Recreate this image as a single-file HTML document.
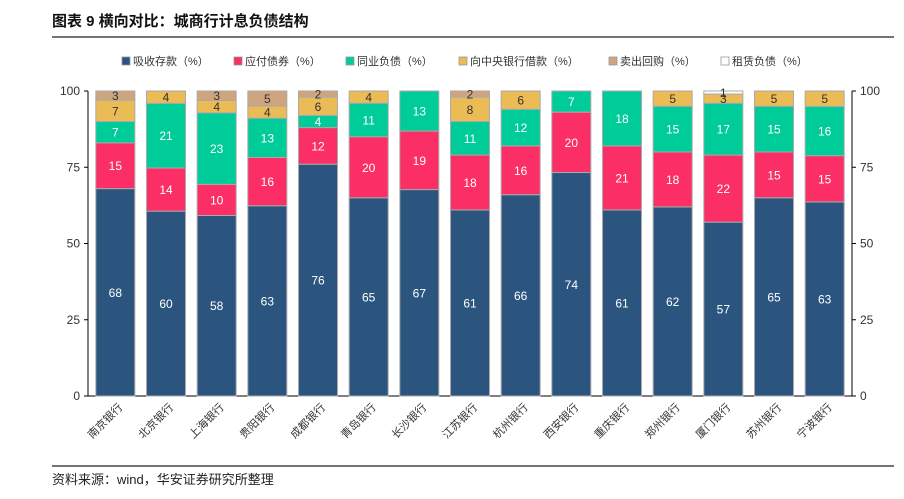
<!DOCTYPE html>
<html><head><meta charset="utf-8"><style>
body{margin:0;background:#fff;width:904px;height:494px;overflow:hidden;font-family:"Liberation Sans","Noto Sans CJK SC",sans-serif}
</style></head><body>
<svg width="904" height="494" xmlns="http://www.w3.org/2000/svg">
<text x="52" y="26" font-size="15" font-weight="bold" fill="#111" font-family="Liberation Sans,Noto Sans CJK SC,sans-serif">图表 9 横向对比：城商行计息负债结构</text>
<line x1="52" y1="37" x2="894" y2="37" stroke="#222" stroke-width="1.2"/>
<line x1="52" y1="466" x2="894" y2="466" stroke="#222" stroke-width="1.2"/>
<text x="52" y="484" font-size="13" fill="#222" font-family="Liberation Sans,Noto Sans CJK SC,sans-serif">资料来源：wind，华安证券研究所整理</text>
<g id="legend"></g>
<g id="axes"></g>
<g id="bars"></g>
<g id="xlabels"></g>
</svg>
<script>
const banks=["南京银行","北京银行","上海银行","贵阳银行","成都银行","青岛银行","长沙银行","江苏银行","杭州银行","西安银行","重庆银行","郑州银行","厦门银行","苏州银行","宁波银行"];
const deposits=[68,60,58,63,76,65,67,61,66,74,61,62,57,65,63];
const bonds=[15,14,10,16,12,20,19,18,16,20,21,18,22,15,15];
const interbank=[7,21,23,13,4,11,13,11,12,7,18,15,17,15,16];
const cbBorrow=[7,4,4,4,6,4,0,8,6,0,0,5,3,5,5];
const repo=[3,0,3,5,2,0,0,2,0,0,0,0,0,0,0];
const lease=[0,0,0,0,0,0,0,0,0,0,0,0,1,0,0];
const seriesNames=["吸收存款（%）","应付债券（%）","同业负债（%）","向中央银行借款（%）","卖出回购（%）","租赁负债（%）"];
const yTicks=[0,25,50,75,100];
const series=[deposits,bonds,interbank,cbBorrow,repo,lease];
const colors=["#2b557f","#fb2e65","#00cc99","#ebbb55","#cfa57f","#ffffff"];
const textCol=["#fff","#fff","#fff","#333","#333","#333"];
const keys=["deposits","bonds","interbank","cb-borrow","repo","lease"];
const NS="http://www.w3.org/2000/svg";
const L=90,R=850,T=91,B=396;
const y=v=>B-(B-T)*v/100;
const step=(R-L)/banks.length;
const xc=i=>L+step*(i+0.5);
const bw=39;
function mk(tag,attrs,parent){const e=document.createElementNS(NS,tag);for(const k in attrs)e.setAttribute(k,attrs[k]);parent.appendChild(e);return e;}
const ax=document.getElementById('axes');
let a=mk('line',{x1:L-2,y1:T,x2:L-2,y2:B,stroke:'#000','stroke-width':1},ax);


a=mk('line',{x1:R+2,y1:T,x2:R+2,y2:B,stroke:'#000','stroke-width':1},ax);


a=mk('line',{x1:L-2,y1:B,x2:R+2,y2:B,stroke:'#000','stroke-width':1},ax);


yTicks.forEach(t=>{
 let e=mk('text',{x:L-10,y:y(t)+4,'font-size':12,fill:'#333','text-anchor':'end'},ax);e.textContent=t;
 
 
 e=mk('text',{x:R+10,y:y(t)+4,'font-size':12,fill:'#333'},ax);e.textContent=t;
 
 
 mk('line',{x1:L-6,y1:y(t),x2:L-2,y2:y(t),stroke:'#000'},ax);
 mk('line',{x1:R+2,y1:y(t),x2:R+6,y2:y(t),stroke:'#000'},ax);
});
const bg=document.getElementById('bars');
banks.forEach((b,i)=>{
 let total=0;series.forEach(s=>total+=s[i]);
 let cum=0;
 series.forEach((s,k)=>{
  const v=s[i]; if(!v)return;
  const y0=y(cum*100/total),y1=y((cum+v)*100/total);cum+=v;
  const r=mk('rect',{x:xc(i)-bw/2,y:y1,width:bw,height:y0-y1,fill:colors[k],stroke:'#aaa','stroke-width':1},bg);
  
  
  const t=mk('text',{x:xc(i),y:(y0+y1)/2+4.5,'font-size':12,fill:textCol[k],'text-anchor':'middle'},bg);
  t.textContent=v;
  
  
 });
});
const xl=document.getElementById('xlabels');
banks.forEach((b,i)=>{
 const t=mk('text',{x:0,y:0,'font-size':11,fill:'#333','text-anchor':'end',transform:`translate(${xc(i)+8},${B+12}) rotate(-45)`},xl);
 t.textContent=b;
 
 
});
const lg=document.getElementById('legend');
const lx=[122,234,346,459,609,721];
seriesNames.forEach((n,k)=>{
 const r=mk('rect',{x:lx[k],y:57,width:8,height:8,fill:colors[k],stroke:'#999','stroke-width':0.8},lg);
 
 
 const t=mk('text',{x:lx[k]+11,y:65,'font-size':11,fill:'#333'},lg);
 t.textContent=n;
 
 
});
</script>
</body></html>
